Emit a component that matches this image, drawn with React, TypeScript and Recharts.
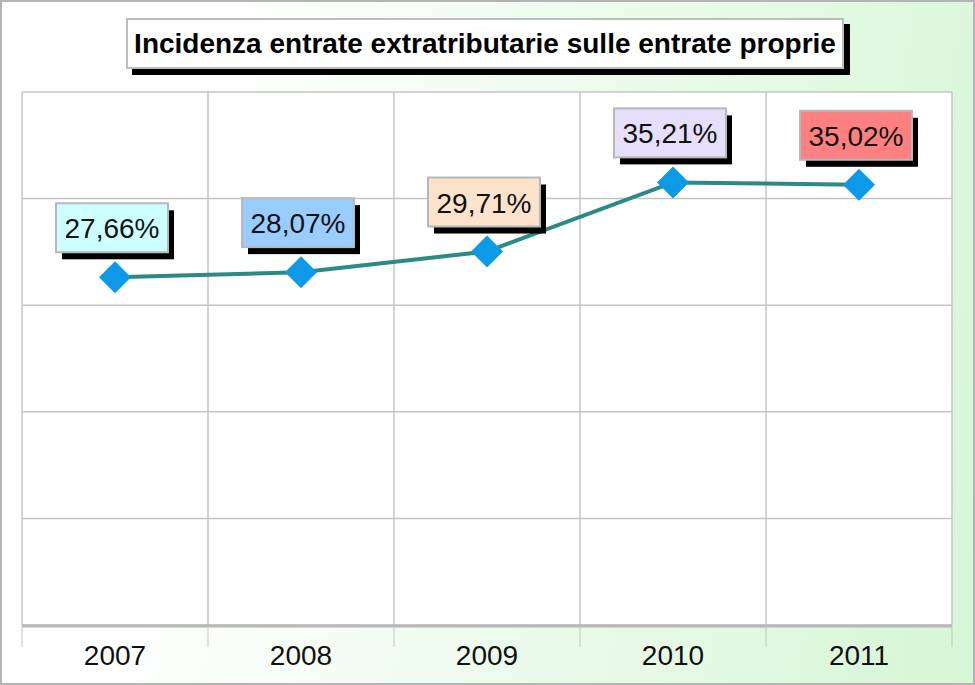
import { LineChart, Line, XAxis, YAxis, CartesianGrid, LabelList } from "recharts";

const YEARS = ["2007", "2008", "2009", "2010", "2011"];
const INCIDENZA = [27.66, 28.07, 29.71, 35.21, 35.02];
const BOX_COLORS = ["#CCFFFF", "#99CCFF", "#FDE3CB", "#E6DFFB", "#FF8080"];
const Y_TICKS = [0, 8.48, 16.96, 25.44, 33.92, 42.4];
const CENTER_TICKS = [1, 2, 3, 4, 5];
const BAND_TICKS = [0.5, 1.5, 2.5, 3.5, 4.5, 5.5];

const data = YEARS.map((year, i) => ({ pos: i + 1, year, value: INCIDENZA[i] }));

const FONT = "'Liberation Sans', Arial, sans-serif";

const fmt = (v: number) => v.toFixed(2).replace(".", ",") + "%";

const Diamond = (props: any) => {
  const { cx, cy } = props;
  if (cx == null || cy == null) return null;
  const r = 16;
  return (
    <polygon
      points={`${cx},${cy - r} ${cx + r},${cy} ${cx},${cy + r} ${cx - r},${cy}`}
      fill="#0C9AE8"
    />
  );
};

const ValueBox = (props: any) => {
  const { x, y, value, index } = props;
  const w = 112;
  const h = 49;
  const left = x - 3 - w / 2;
  const top = y - 25 - h;
  return (
    <g>
      <rect x={left + 6} y={top + 7} width={w} height={h} fill="#000" />
      <rect x={left} y={top} width={w} height={h} fill={BOX_COLORS[index]} stroke="#b8b8b8" strokeWidth={2} />
      <text
        x={left + w / 2}
        y={top + h / 2 + 1}
        textAnchor="middle"
        dominantBaseline="central"
        fontFamily={FONT}
        fontSize={28}
        fill="#111"
      >
        {fmt(value)}
      </text>
    </g>
  );
};

const YearTick = (props: any) => {
  const { x, y, payload } = props;
  return (
    <text x={x} y={y + 22} textAnchor="middle" dominantBaseline="central" fontFamily={FONT} fontSize={28} fill="#111">
      {YEARS[payload.value - 1]}
    </text>
  );
};

const NoTick = () => <g />;

export default function App() {
  return (
    <div
      style={{
        position: "absolute",
        left: 0,
        top: 0,
        width: 975,
        height: 685,
        boxSizing: "border-box",
        border: "2px solid #b4b4b4",
        background: "linear-gradient(100deg, #ffffff 20%, #d6f6d6 100%)",
      }}
    >
      <div
        style={{
          position: "absolute",
          left: 124,
          top: 16,
          width: 718,
          height: 51,
          boxSizing: "border-box",
          background: "#fff",
          border: "2px solid #bdbdbd",
          boxShadow: "6px 6px 0 #000",
          fontFamily: FONT,
          fontWeight: "bold",
          fontSize: 28,
          lineHeight: "47px",
          textAlign: "center",
          color: "#000",
          zIndex: 2,
        }}
      >
        Incidenza entrate extratributarie sulle entrate proprie
      </div>
      <div style={{ position: "absolute", left: -2, top: -2 }}>
        <LineChart width={975} height={685} data={data} margin={{ top: 92, right: 23, bottom: 58, left: 22 }}>
          <CartesianGrid
            xAxisId="b"
            stroke="#c4c4c4"
            strokeWidth={1.5}
            fill="#ffffff"
          />
          <XAxis
            xAxisId="b"
            dataKey="pos"
            type="number"
            domain={[0.5, 5.5]}
            ticks={BAND_TICKS}
            interval={0}
            height={1}
            tick={<NoTick />}
            tickSize={21}
            tickLine={{ stroke: "#c4c4c4" }}
            axisLine={{ stroke: "#b8b8b8", strokeWidth: 3 }}
          />
          <XAxis
            dataKey="pos"
            type="number"
            domain={[0.5, 5.5]}
            ticks={CENTER_TICKS}
            interval={0}
            height={1}
            tick={<YearTick />}
            tickLine={false}
            axisLine={false}
          />
          <YAxis hide domain={[0, 42.4]} ticks={Y_TICKS} />
          <Line
            dataKey="value"
            stroke="#2B8A86"
            strokeWidth={4}
            dot={<Diamond />}
            activeDot={false}
            isAnimationActive={false}
          >
            <LabelList dataKey="value" content={<ValueBox />} />
          </Line>
        </LineChart>
      </div>
    </div>
  );
}
